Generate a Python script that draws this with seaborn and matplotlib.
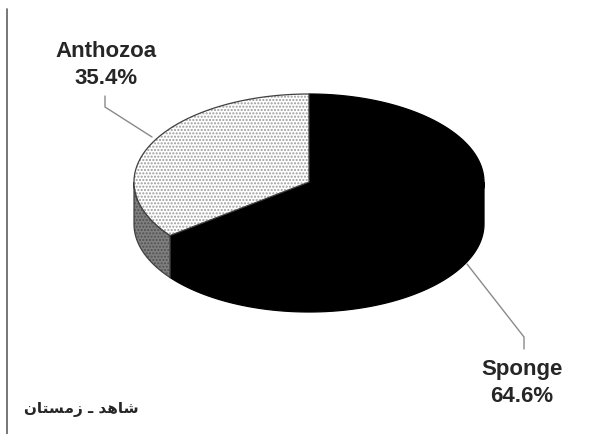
import numpy as np
import seaborn as sns
import matplotlib.pyplot as plt
from matplotlib.patches import Polygon

# data
categories = ["Sponge", "Anthozoa"]
shares = [64.6, 35.4]
top_colors = ["black", "white"]
side_colors = ["black", "#808080"]
hatches = [None, "....."]
# caption (Persian "شاهد ـ زمستان"), written in visual order with presentation forms
caption = "\ufee5\ufe8e\ufe98\ufeb4\ufee3\ufeaf \u0640 \ufeaa\ufeeb\ufe8e\ufeb7"

sns.set_style("white")
plt.rcParams["font.family"] = ["Liberation Sans", "DejaVu Sans"]
plt.rcParams["hatch.linewidth"] = 1.0

fig = plt.figure(figsize=(6.06, 4.35), dpi=100)
ax = fig.add_axes([0, 0, 1, 1])
ax.set_xlim(0, 606)
ax.set_ylim(435, 0)
ax.axis("off")

# 3d pie geometry (pixels)
cx, cy, rx, ry, depth = 309, 183, 175, 88, 42


def ell(t):
    t = np.radians(t)
    return cx + rx * np.cos(t), cy - ry * np.sin(t)


# slice angles, clockwise from 12 o'clock
ends = 90 - np.cumsum(shares) * 3.6
starts = np.concatenate([[90], ends[:-1]])

# sides first (front half only)
for i in range(len(categories)):
    lo, hi = ends[i], starts[i]
    a, b = max(lo, -180), min(hi, 0)
    if a >= b:
        continue
    t = np.linspace(a, b, 100)
    x, y = ell(t)
    pts = np.column_stack([np.concatenate([x, x[::-1]]),
                           np.concatenate([y, y[::-1] + depth])])
    hc = "#505050" if hatches[i] else side_colors[i]
    ax.add_patch(Polygon(pts, closed=True, facecolor=side_colors[i],
                         edgecolor=hc, hatch=hatches[i], lw=0))
    ax.add_patch(Polygon(pts, closed=True, fill=False,
                         edgecolor="#404040" if hatches[i] else "black", lw=0.9))

# top faces
for i in range(len(categories)):
    t = np.linspace(starts[i], ends[i], 200)
    x, y = ell(t)
    pts = np.column_stack([np.concatenate([[cx], x]), np.concatenate([[cy], y])])
    hc = "#9a9a9a" if hatches[i] else top_colors[i]
    ax.add_patch(Polygon(pts, closed=True, facecolor=top_colors[i],
                         edgecolor=hc, hatch=hatches[i], lw=0))
    ax.add_patch(Polygon(pts, closed=True, fill=False,
                         edgecolor="#404040" if hatches[i] else "black", lw=0.9))

# labels with leader lines
lab_pos = {"Anthozoa": (106, 65), "Sponge": (522, 383)}
leaders = {"Anthozoa": [(105, 97), (105, 108), (152, 138)],
           "Sponge": [(524, 350), (524, 338), (467, 265)]}
for cat, val in zip(categories, shares):
    x, y = lab_pos[cat]
    ax.text(x, y, f"{cat}\n{val}%", ha="center", va="center",
            fontsize=16, fontweight="bold", linespacing=1.35)
    lx, ly = zip(*leaders[cat])
    ax.plot(lx, ly, color="#8a8a8a", lw=1)

# left frame line and caption
ax.plot([7, 7], [10, 435], color="#606060", lw=1.2)
ax.text(24, 410, caption, ha="left", va="center", fontsize=11,
        fontweight="bold", family=["DejaVu Sans"])

fig.savefig("out.png", dpi=100)
